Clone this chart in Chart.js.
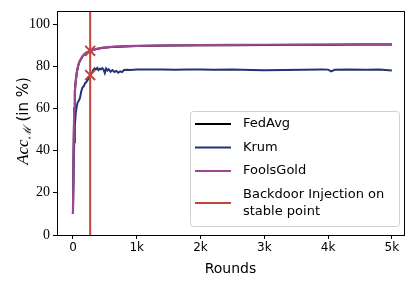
<!DOCTYPE html>
<html>
<head>
<meta charset="utf-8">
<script src="https://cdn.jsdelivr.net/npm/chart.js@4"></script>
<style>
  html, body { margin: 0; padding: 0; background: #fff; }
  #wrap { width: 415px; height: 282px; }
</style>
</head>
<body>
<div id="wrap"><canvas id="chart"></canvas></div>
<script>
// rounds / accuracy
const goldRounds = [0, 10, 20, 30, 40, 60, 80, 100, 150, 200, 270, 350, 450, 600, 800, 1000, 1500, 2000, 2500, 3000, 3500, 4000, 4500, 5000]
const goldAcc = [10, 40, 60, 68, 72, 77, 80, 82, 84.8, 86.3, 87.3, 88.1, 88.7, 89.2, 89.5, 89.7, 89.9, 90.0, 90.1, 90.2, 90.2, 90.3, 90.4, 90.4]
const fedAvgAcc = [10, 40, 60, 68, 72, 77, 80, 82, 84.7, 86.2, 87.2, 88.0, 88.6, 89.1, 89.4, 89.6, 89.8, 89.9, 90.0, 90.1, 90.2, 90.2, 90.3, 90.3]

const krumRounds = [0, 10, 20, 30, 45, 60, 75, 90, 110, 130, 150, 170, 190, 210, 240, 270, 300, 320, 340, 360, 380, 400, 420, 440, 460, 480, 500, 520, 540, 560, 590, 620, 650, 680, 710, 740, 770, 800, 850, 900, 1000, 1200, 1400, 1600, 1800, 2000, 2200, 2500, 2800, 3000, 3300, 3600, 3900, 4000, 4050, 4100, 4300, 4600, 4800, 5000]
const krumAcc = [10, 30, 44, 52, 58, 61, 63, 63.5, 65, 68, 70, 70.5, 72, 72.5, 74, 75.6, 77, 78.3, 79, 78.5, 79.2, 78.2, 78.8, 78.5, 79.1, 78.4, 76.8, 78.9, 78.0, 78.6, 77.4, 78.2, 77.3, 77.8, 76.9, 77.6, 77.2, 78.2, 78.3, 78.2, 78.4, 78.5, 78.4, 78.3, 78.5, 78.5, 78.3, 78.4, 78.2, 78.1, 78.2, 78.3, 78.5, 78.4, 77.6, 78.3, 78.4, 78.3, 78.5, 78.0]

const injectRound = 270
const injectMarks = [87.3, 75.8]

const xTicks = [0, 1000, 2000, 3000, 4000, 5000]
const yTicks = [0, 20, 40, 60, 80, 100]

const legendItems = [
  { text: ["FedAvg"], color: "#000000" },
  { text: ["Krum"], color: "#22337a" },
  { text: ["FoolsGold"], color: "#9e4790" },
  { text: ["Backdoor Injection on", "stable point"], color: "#c0453d" },
]

const pts = (xs, ys) => xs.map((x, i) => ({ x: x, y: ys[i] }))

const frame = {
  id: "frame",
  afterDraw(chart) {
    const { ctx, chartArea: a } = chart
    ctx.save()
    ctx.strokeStyle = "#000"
    ctx.lineWidth = 1
    ctx.strokeRect(Math.round(a.left) + 0.5, Math.round(a.top) + 0.5, Math.round(a.right - a.left), Math.round(a.bottom - a.top))

    // y axis title
    ctx.translate(24, 121)
    ctx.rotate(-Math.PI / 2)
    ctx.fillStyle = "#000"
    ctx.textBaseline = "middle"
    const p1 = "Acc"
    ctx.font = "italic 17px 'Liberation Serif'"
    const w1 = ctx.measureText(p1).width
    ctx.font = "italic 11px 'Liberation Serif'"
    const p2 = "ℳ"
    const w2 = ctx.measureText(p2).width
    ctx.font = "15px 'DejaVu Sans'"
    const p3 = " (in %)"
    const w3 = ctx.measureText(p3).width
    let x = -(w1 + w2 + w3) / 2
    ctx.font = "italic 17px 'Liberation Serif'"
    ctx.fillText(p1, x, 0); x += w1
    ctx.font = "italic 11px 'Liberation Serif'"
    ctx.fillText(p2, x, 4); x += w2
    ctx.font = "15px 'DejaVu Sans'"
    ctx.fillText(p3, x, 0)
    ctx.restore()

    // legend
    ctx.save()
    const bx = 190.5, by = 111.5, bw = 209, bh = 115, r = 3
    ctx.beginPath()
    ctx.roundRect(bx, by, bw, bh, r)
    ctx.fillStyle = "rgba(255,255,255,0.85)"
    ctx.fill()
    ctx.strokeStyle = "#d0d0d0"
    ctx.stroke()
    ctx.font = "13px 'DejaVu Sans'"
    ctx.textBaseline = "middle"
    let y = 124
    legendItems.forEach(item => {
      const n = item.text.length
      const mid = y + (n - 1) * 8.5
      ctx.strokeStyle = item.color
      ctx.lineWidth = 2
      ctx.beginPath()
      ctx.moveTo(195, mid)
      ctx.lineTo(231, mid)
      ctx.stroke()
      ctx.fillStyle = "#000"
      item.text.forEach((t, i) => ctx.fillText(t, 243, y + i * 17))
      y += 23.5 + (n - 1) * 17
    })
    ctx.restore()
  }
}

new Chart(document.getElementById("chart"), {
  type: "line",
  data: {
    datasets: [
      { label: "FedAvg", data: pts(goldRounds, fedAvgAcc), borderColor: "#000", borderWidth: 2, order: 4 },
      { label: "Krum", data: pts(krumRounds, krumAcc), borderColor: "#22337a", borderWidth: 2, order: 3 },
      { label: "FoolsGold", data: pts(goldRounds, goldAcc), borderColor: "#9e4790", borderWidth: 2.2, order: 2 },
      { label: "Backdoor Injection on stable point", data: [{ x: injectRound, y: 0 }, { x: injectRound, y: 106 }], borderColor: "#c0453d", borderWidth: 2, order: 1 },
      {
        label: "marks", data: injectMarks.map(v => ({ x: injectRound, y: v })), showLine: false,
        pointStyle: "crossRot", pointRadius: 7, borderColor: "#c0453d", pointBorderWidth: 2, order: 0
      },
    ],
  },
  options: {
    responsive: true,
    maintainAspectRatio: false,
    animation: false,
    layout: { padding: { top: 5, right: 11, left: 0, bottom: 0 } },
    elements: { point: { radius: 0 }, line: { tension: 0 } },
    plugins: { legend: { display: false }, tooltip: { enabled: false } },
    scales: {
      x: {
        type: "linear",
        min: -250,
        max: 5190,
        afterBuildTicks: axis => { axis.ticks = xTicks.map(v => ({ value: v })) },
        afterFit: axis => { axis.height = 47 },
        grid: { drawOnChartArea: false, drawTicks: true, tickLength: 4, color: "#000" },
        border: { color: "#000" },
        ticks: {
          color: "#000",
          padding: 2,
          maxRotation: 0,
          font: { family: "DejaVu Sans", size: 12 },
          callback: v => (v === 0 ? "0" : v / 1000 + "k"),
        },
        title: { display: true, text: "Rounds", color: "#000", font: { family: "DejaVu Sans", size: 14 }, padding: { top: 0 } },
      },
      y: {
        min: 0,
        max: 106,
        afterBuildTicks: axis => { axis.ticks = yTicks.map(v => ({ value: v })) },
        afterFit: axis => { axis.width = 57 },
        grid: { drawOnChartArea: false, drawTicks: true, tickLength: 4, color: "#000" },
        border: { color: "#000" },
        ticks: { color: "#000", padding: 3, font: { family: "Liberation Serif", size: 14 } },
      },
    },
  },
  plugins: [frame],
})
</script>
</body>
</html>
